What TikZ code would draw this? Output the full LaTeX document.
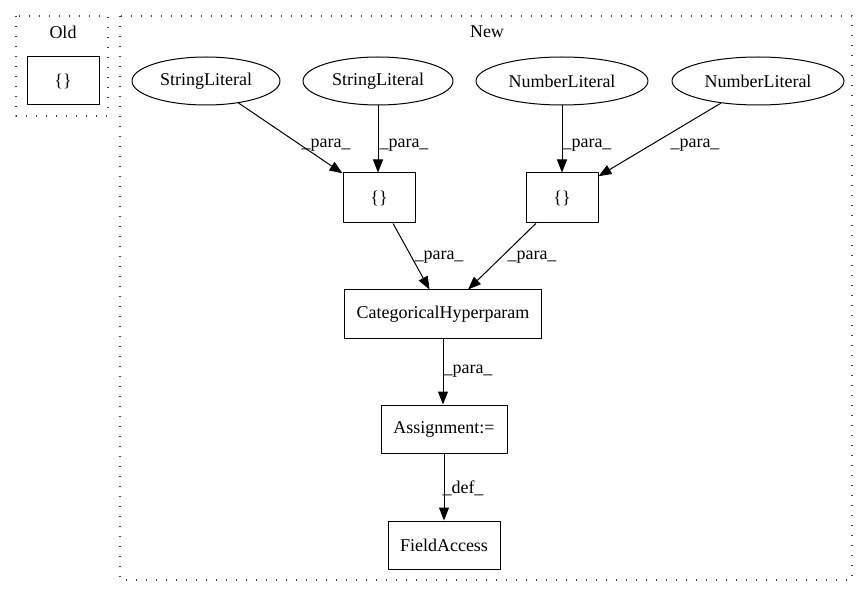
\documentclass[tikz,border=0pt]{standalone}
\usepackage{fontspec}
\setmainfont{Liberation Serif}
\usetikzlibrary{arrows.meta,shapes.geometric}

\tikzset{
  lit/.style={draw,ellipse,line width=1pt,inner sep=0pt,minimum height=48pt},
  op/.style={draw,rectangle,line width=1pt,inner sep=0pt,minimum height=48pt},
  cluster/.style={draw,line width=1.3pt,dash pattern=on 1.4pt off 8.6pt,color=black!75},
  edge/.style={-{Triangle[length=13pt,width=10pt]},line width=1pt},
  lbl/.style={inner sep=0pt}
}

\begin{document}
\begin{tikzpicture}[x=1pt,y=-1pt,line join=round,font=\fontsize{18}{20}\selectfont]
\useasboundingbox (0,0) rectangle (868,596);
% clusters
\draw[cluster] (16,16) rectangle (108,116);
\draw[cluster] (120,16) rectangle (852,580);
\node[lbl] (old) at (63,32) {Old};
\node[lbl] (new) at (487,32) {New};
% nodes
\node[op,minimum width=72pt] (oldbrace) at (63,81) {\{\}};
\node[lit,minimum width=148pt] (str1) at (206,81) {StringLiteral};
\node[lit,minimum width=150pt] (str2) at (378,81) {StringLiteral};
\node[lit,minimum width=172pt] (num1) at (562,81) {NumberLiteral};
\node[lit,minimum width=172pt] (num2) at (758,81) {NumberLiteral};
\node[op,minimum width=72pt,minimum height=50pt] (brace1) at (379,198) {\{\}};
\node[op,minimum width=72pt,minimum height=50pt] (brace2) at (562,198) {\{\}};
\node[op,minimum width=197pt] (cat) at (443,314) {CategoricalHyperparam};
\node[op,minimum width=126pt] (assign) at (444,429) {Assignment:=};
\node[op,minimum width=112pt] (field) at (444,545) {FieldAccess};
% edges
\draw[edge] (str1) -- (brace1);
\draw[edge] (str2.south) -- (brace1.north -| str2.south);
\draw[edge] (num1.south) -- (brace2.north -| num1.south);
\draw[edge] (num2) -- (brace2);
\draw[edge] (brace1) -- (cat);
\draw[edge] (brace2) -- (cat);
\draw[edge] (cat.south) -- (assign.north -| cat.south);
\draw[edge] (assign.south) -- (field.north -| assign.south);
% edge labels
\node[lbl] (l1) at (326,145) {\_para\_};
\node[lbl] (l2) at (404,145) {\_para\_};
\node[lbl] (l3) at (587,145) {\_para\_};
\node[lbl] (l4) at (695,145) {\_para\_};
\node[lbl] (l5) at (439,257) {\_para\_};
\node[lbl] (l6) at (532,257) {\_para\_};
\node[lbl] (l7) at (468,371) {\_para\_};
\node[lbl] (l8) at (463,488) {\_def\_};
\end{tikzpicture}
\end{document}
